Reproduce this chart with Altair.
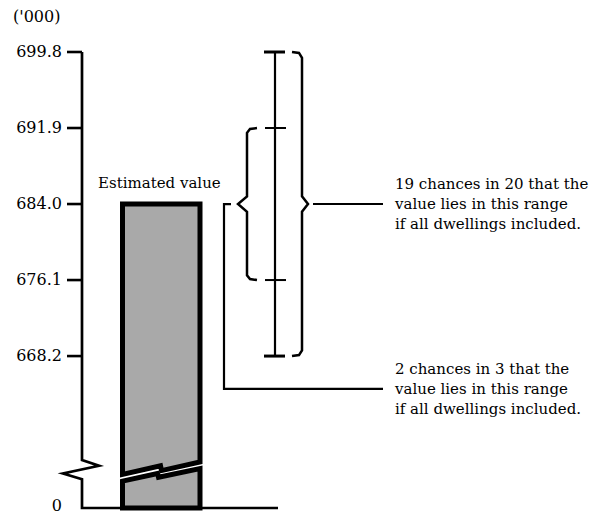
import altair as alt
import pandas as pd

# ---------------- values ('000) ----------------
estimate = 684.0
tick_values = [699.8, 691.9, 684.0, 676.1, 668.2]
tick_labels = ["699.8", "691.9", "684.0", "676.1", "668.2"]
zero_value = 0.0
zero_label = "0"
inner_range = [676.1, 691.9]   # 2 chances in 3  (estimate +/- 1 s.e.)
outer_range = [668.2, 699.8]   # 19 chances in 20 (estimate +/- 2 s.e.)
axis_break = [657.4, 656.8, 656.0, 655.4]        # zig-zag of the broken axis
bar_break_upper = [655.9, 656.8, 656.3, 657.2]   # lower edge of the upper bar piece
bar_break_lower = [655.2, 656.0, 655.6, 656.5]   # upper edge of the lower bar piece
note_level = 664.8                                # leader line of the "2 in 3" note
unit_level = 703.4
est_label_level = 686.2

unit_label = "('000)"
est_label = "Estimated value"
note_outer = "19 chances in 20 that the\nvalue lies in this range\nif all dwellings included."
note_inner = "2 chances in 3 that the\nvalue lies in this range\nif all dwellings included."

FONT = "DejaVu Serif"

# ---------------- scales (broken value axis = piecewise scale) ----------------
xs = alt.Scale(domain=[8, 598], range=[0, 590], nice=False, zero=False)
ys = alt.Scale(domain=[0, 654.8, 699.8], range=[500, 477, 44], nice=False, zero=False)
X = alt.X("px:Q", scale=xs, axis=None)
Y = alt.Y("v:Q", scale=ys, axis=None)

# ---------------- line work ----------------
rows = []


def add(name, pts, w):
    for i, (px, v) in enumerate(pts):
        rows.append({"shape": name, "o": i, "px": px, "v": v, "w": w})


lo, hi = outer_range
ilo, ihi = inner_range
add("axis", [(82, hi), (82, axis_break[0]), (99, axis_break[1]), (63, axis_break[2]),
             (82, axis_break[3]), (82, zero_value), (278, zero_value)], 2.7)
for k, t in enumerate(tick_values):
    add(f"tick{k}", [(67, t), (82, t)], 2.6)
add("bar_v", [(275, lo), (275, hi)], 2.2)
add("cap_top", [(264, hi), (285, hi)], 3.0)
add("cap_bot", [(264, lo), (285, lo)], 3.0)
add("cross_top", [(265, ihi), (286, ihi)], 2.0)
add("cross_bot", [(265, ilo), (286, ilo)], 2.0)
add("brace_in", [(257, ihi), (250, ihi - 0.1), (247, ihi - 0.5), (247, estimate + 0.8),
                 (238, estimate), (247, estimate - 0.8), (247, ilo + 0.5), (250, ilo + 0.1),
                 (257, ilo)], 2.5)
add("brace_out", [(292, hi), (299, hi - 0.1), (302, hi - 0.6), (302, estimate + 0.8),
                  (308, estimate), (302, estimate - 0.8), (302, lo + 0.6), (299, lo + 0.1),
                  (292, lo)], 2.5)
add("lead_out", [(313, estimate), (383, estimate)], 2.0)
add("lead_in", [(231, estimate), (224, estimate), (224, note_level), (383, note_level)], 2.2)

lines_df = pd.DataFrame(rows)
lines = alt.Chart(lines_df).mark_line(color="black", strokeJoin="miter", strokeCap="butt").encode(
    x=X, y=Y,
    detail="shape:N",
    order="o:Q",
    strokeWidth=alt.StrokeWidth("w:Q", scale=None),
)

# ---------------- the (broken) bar ----------------
def bar_piece(xs_, top, bottom):
    df = pd.DataFrame({"px": xs_, "v": top, "v2": bottom})
    return alt.Chart(df).mark_area(
        orient="vertical", fill="#a9a9a9", fillOpacity=1, stroke="black",
        strokeWidth=5, strokeJoin="miter", interpolate="linear",
    ).encode(x=X, y=Y, y2="v2:Q")


upper = bar_piece([122.5, 160.5, 161.5, 200], [estimate] * 4, bar_break_upper)
lower = bar_piece([122.5, 157.5, 158.5, 200], bar_break_lower, [zero_value] * 4)

# ---------------- text ----------------
lab_df = pd.DataFrame({"px": [62] * len(tick_values), "v": tick_values, "label": tick_labels})
tick_text = alt.Chart(lab_df).mark_text(align="right", baseline="middle", font=FONT,
                                        fontSize=16, color="black").encode(
    x=X, y=Y, text="label:N")

zero_df = pd.DataFrame({"px": [62], "v": [zero_value], "label": [zero_label]})
zero_text = alt.Chart(zero_df).mark_text(align="right", baseline="middle", font=FONT,
                                         fontSize=16, dy=-2, color="black").encode(
    x=X, y=Y, text="label:N")

misc_df = pd.DataFrame({"px": [13, 98], "v": [unit_level, est_label_level],
                        "label": [unit_label, est_label], "fs": [16, 15]})
misc_text = alt.Chart(misc_df).mark_text(align="left", baseline="middle", font=FONT,
                                         color="black").encode(
    x=X, y=Y, text="label:N", size=alt.Size("fs:Q", scale=None))

note_df = pd.DataFrame({"px": [395, 395], "v": [estimate, note_level],
                        "label": [note_outer, note_inner]})
note_text = alt.Chart(note_df).mark_text(align="left", baseline="middle", font=FONT,
                                         fontSize=15, lineBreak="\n", lineHeight=20,
                                         dy=-20, color="black").encode(
    x=X, y=Y, text="label:N")

chart = alt.layer(upper, lower, lines, tick_text, zero_text, misc_text, note_text).properties(
    width=590, height=507,
    autosize=alt.AutoSizeParams(type="none"),
    padding=0,
    background="white",
).configure_view(stroke=None)

chart.save("out.html", embed_options={"renderer": "svg", "actions": False})
